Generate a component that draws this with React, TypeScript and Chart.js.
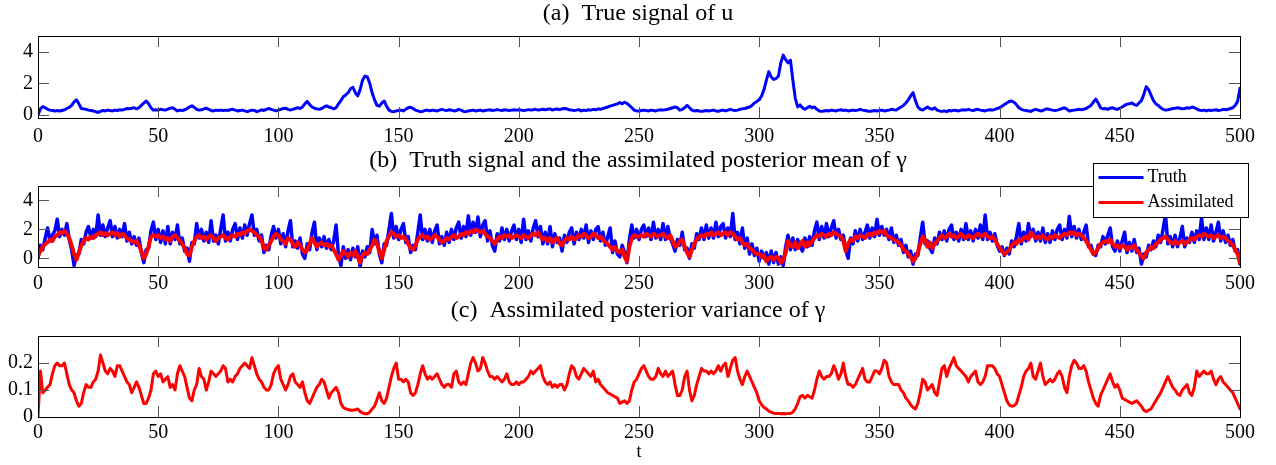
import React, { useEffect, useRef } from 'react';
import { Chart, registerables } from 'chart.js';

Chart.register(...registerables);

const FONT = "'Liberation Serif', 'Times New Roman', Times, serif";

// ---------------- data (t = 0, 1, 2, ..., 500) ----------------
const titleA = '(a)  True signal of u';
const titleB = '(b)  Truth signal and the assimilated posterior mean of γ';
const titleC = '(c)  Assimilated posterior variance of γ';
const xAxisTitleC = 't';
const legendLabels = ['Truth', 'Assimilated'];

const xTickValues = [0, 50, 100, 150, 200, 250, 300, 350, 400, 450, 500];
const yTicksA = [0, 2, 4];
const yTicksB = [0, 2, 4];
const yTicksC = [0, 0.1, 0.2];

const uTruth = [
  0, 0.38, 0.52, 0.45, 0.35, 0.3, 0.28, 0.25, 0.27, 0.24,
  0.28, 0.32, 0.4, 0.48, 0.6, 0.82, 0.95, 0.7, 0.4, 0.38,
  0.35, 0.3, 0.28, 0.25, 0.2, 0.15, 0.22, 0.28, 0.25, 0.3,
  0.27, 0.25, 0.3, 0.28, 0.32, 0.3, 0.35, 0.4, 0.38, 0.42,
  0.45, 0.38, 0.45, 0.6, 0.75, 0.88, 0.7, 0.45, 0.3, 0.32,
  0.3, 0.35, 0.32, 0.3, 0.36, 0.42, 0.45, 0.35, 0.25, 0.3,
  0.28, 0.32, 0.4, 0.5, 0.57, 0.48, 0.35, 0.3, 0.32, 0.38,
  0.42, 0.35, 0.28, 0.25, 0.3, 0.28, 0.3, 0.27, 0.3, 0.28,
  0.32, 0.35, 0.3, 0.25, 0.28, 0.3, 0.25, 0.2, 0.25, 0.3,
  0.28, 0.2, 0.25, 0.32, 0.28, 0.35, 0.4, 0.35, 0.3, 0.25,
  0.3, 0.35, 0.4, 0.42, 0.35, 0.3, 0.35, 0.4, 0.45, 0.4,
  0.5, 0.7, 0.85, 0.65, 0.5, 0.42, 0.38, 0.35, 0.4, 0.5,
  0.57, 0.5, 0.45, 0.38, 0.45, 0.7, 0.9, 1.15, 1.26, 1.4,
  1.65, 1.75, 1.4, 1.2, 1.6, 2.2, 2.46, 2.4, 2.0, 1.4,
  0.95, 0.6, 0.55, 0.75, 0.88, 0.55, 0.3, 0.22, 0.2, 0.25,
  0.28, 0.3, 0.25, 0.35, 0.45, 0.48, 0.4, 0.3, 0.25, 0.2,
  0.22, 0.28, 0.3, 0.25, 0.3, 0.27, 0.25, 0.3, 0.35, 0.3,
  0.28, 0.32, 0.3, 0.25, 0.27, 0.35, 0.3, 0.22, 0.2, 0.25,
  0.27, 0.3, 0.25, 0.28, 0.3, 0.25, 0.28, 0.3, 0.32, 0.28,
  0.3, 0.33, 0.3, 0.28, 0.32, 0.3, 0.27, 0.3, 0.32, 0.3,
  0.32, 0.3, 0.28, 0.3, 0.33, 0.3, 0.32, 0.35, 0.3, 0.33,
  0.35, 0.32, 0.35, 0.38, 0.3, 0.35, 0.37, 0.33, 0.38, 0.4,
  0.38, 0.32, 0.3, 0.28, 0.3, 0.33, 0.25, 0.3, 0.28, 0.32,
  0.3, 0.35, 0.32, 0.38, 0.35, 0.4, 0.45, 0.5, 0.55, 0.6,
  0.65, 0.7, 0.78, 0.7, 0.8, 0.72, 0.6, 0.45, 0.3, 0.25,
  0.25, 0.28, 0.3, 0.27, 0.25, 0.3, 0.28, 0.25, 0.3, 0.32,
  0.3, 0.33, 0.35, 0.4, 0.45, 0.5, 0.45, 0.3, 0.35, 0.45,
  0.6, 0.45, 0.3, 0.25, 0.28, 0.25, 0.22, 0.25, 0.28, 0.25,
  0.27, 0.3, 0.25, 0.22, 0.28, 0.3, 0.25, 0.3, 0.35, 0.3,
  0.28, 0.3, 0.35, 0.38, 0.4, 0.45, 0.5, 0.6, 0.75, 0.85,
  0.95, 1.2, 1.6, 2.2, 2.74, 2.4, 2.25, 2.3, 2.46, 3.3,
  3.79, 3.5, 3.3, 3.47, 2.2, 1.05, 0.5, 0.63, 0.45, 0.35,
  0.45, 0.55, 0.45, 0.5, 0.35, 0.25, 0.22, 0.25, 0.28, 0.25,
  0.3, 0.27, 0.25, 0.3, 0.32, 0.28, 0.3, 0.25, 0.27, 0.3,
  0.28, 0.3, 0.35, 0.3, 0.28, 0.25, 0.22, 0.25, 0.28, 0.25,
  0.27, 0.3, 0.25, 0.28, 0.3, 0.35, 0.32, 0.3, 0.4, 0.5,
  0.6, 0.75, 0.95, 1.2, 1.41, 0.9, 0.5, 0.35, 0.3, 0.4,
  0.5, 0.4, 0.35, 0.45, 0.3, 0.25, 0.22, 0.25, 0.2, 0.28,
  0.25, 0.3, 0.28, 0.25, 0.3, 0.32, 0.3, 0.35, 0.3, 0.28,
  0.32, 0.35, 0.3, 0.28, 0.25, 0.3, 0.32, 0.3, 0.35, 0.4,
  0.45, 0.55, 0.65, 0.75, 0.85, 0.88, 0.8, 0.65, 0.45, 0.35,
  0.3, 0.28, 0.25, 0.22, 0.3, 0.35, 0.3, 0.25, 0.28, 0.35,
  0.38, 0.33, 0.3, 0.28, 0.3, 0.35, 0.4, 0.45, 0.35, 0.25,
  0.28, 0.3, 0.32, 0.35, 0.33, 0.35, 0.4, 0.5, 0.6, 0.8,
  1.0, 0.75, 0.45, 0.38, 0.4, 0.35, 0.42, 0.45, 0.38, 0.35,
  0.42, 0.5, 0.6, 0.68, 0.7, 0.75, 0.65, 0.6, 0.75, 0.9,
  1.3, 1.79, 1.6, 1.25, 0.9, 0.7, 0.6, 0.45, 0.35, 0.3,
  0.32, 0.35, 0.4, 0.42, 0.45, 0.42, 0.38, 0.4, 0.45, 0.42,
  0.5, 0.45, 0.38, 0.3, 0.28, 0.3, 0.25, 0.3, 0.28, 0.3,
  0.32, 0.28, 0.3, 0.35, 0.32, 0.35, 0.4, 0.45, 0.6, 0.85,
  1.68,
];

const gammaTruth = [
  0.0, 0.9, 0.6, 1.4, 2.1, 1.2, 1.6, 1.9, 2.7, 1.5,
  2.0, 1.6, 2.4, 1.3, 0.6, -0.5, 0.2, 0.3, 1.3, 1.0,
  1.8, 2.2, 1.4, 2.0, 1.5, 3.0, 1.6, 2.3, 1.5, 2.1,
  2.6, 1.5, 2.2, 1.4, 2.0, 1.5, 2.4, 1.2, 1.8, 1.0,
  1.5, 0.9, 1.4, 0.4, -0.3, 0.6, 0.7, 1.9, 2.5, 1.3,
  2.0, 1.1, 1.9, 1.0, 2.2, 1.0, 1.8, 1.3, 2.3, 1.0,
  1.4, 0.5, 0.7, -0.2, 1.1, 1.0, 2.4, 1.4, 2.0, 1.2,
  1.8, 1.1, 2.6, 1.2, 1.6, 1.0, 2.0, 3.0, 1.2, 1.8,
  1.2, 2.0, 2.4, 1.3, 2.1, 1.4, 2.3, 1.6, 2.4, 3.0,
  1.6, 2.0, 1.2, 1.6, 0.4, 0.9, 0.6, 1.6, 2.2, 1.4,
  2.0, 1.0, 1.7, 0.8, 1.9, 2.6, 0.8, 1.2, 0.7, 1.4,
  0.3, 0.0, 1.0, 0.6, 1.8, 2.5, 0.6, 1.4, 0.8, 1.5,
  0.7, 1.3, 0.6, 1.2, 2.3, 0.2, -0.5, 0.8, 0.0, 0.6,
  -0.1, 0.7, 0.1, 0.8, -0.6, 0.5, 0.1, 0.8, 0.4, 2.0,
  1.0, 1.6, 0.3, -0.3, 1.0, 0.9, 2.0, 3.1, 1.4, 2.2,
  1.3, 2.0, 2.4, 1.1, 1.5, 0.4, 0.9, 0.6, 1.8, 3.0,
  1.3, 2.0, 1.2, 2.0, 1.1, 1.9, 2.3, 1.0, 1.5, 0.9,
  1.8, 1.1, 2.0, 1.3, 2.1, 2.5, 1.4, 2.2, 1.5, 2.95,
  1.6, 2.5, 1.8, 2.85, 1.5, 2.3, 2.6, 1.2, 1.9, 0.9,
  0.5, 1.7, 1.2, 2.1, 1.3, 2.0, 1.2, 1.9, 2.3, 1.3,
  2.0, 1.1, 2.7, 1.3, 1.9, 1.2, 2.1, 2.6, 1.5, 2.2,
  1.0, 1.8, 1.0, 2.2, 0.8, 1.7, 1.1, 1.4, 0.5, 1.6,
  1.1, 1.8, 2.1, 1.0, 1.8, 1.3, 2.0, 1.4, 2.3, 1.1,
  1.9, 1.3, 2.0, 2.2, 1.2, 1.8, 0.9, 1.5, 2.1, 0.4,
  1.2, 0.3, 0.1, 0.9, 0.4, -0.3, 1.3, 2.3, 1.4, 2.0,
  1.3, 2.0, 2.3, 1.5, 2.1, 1.3, 2.5, 1.4, 2.0, 1.3,
  2.4, 1.3, 2.2, 1.4, 1.0, 0.5, 1.3, 0.9, 1.8, 0.6,
  0.7, 0.0, 1.0, 0.7, 1.7, 1.3, 2.1, 1.3, 2.3, 1.4,
  2.1, 1.4, 2.5, 1.5, 2.2, 2.4, 1.4, 2.1, 1.5, 3.1,
  1.3, 1.8, 1.0, 2.1, 0.7, 1.4, 0.3, 1.0, 0.2, 0.7,
  -0.2, 0.5, 0.0, 0.4, -0.4, 0.5, -0.3, 0.4, -0.4, 0.1,
  -0.5, 0.8, 1.6, 0.6, 1.4, 0.6, 1.3, 0.8, 0.5, 1.4,
  0.8, 1.5, 0.9, 1.9, 2.5, 1.3, 2.2, 1.4, 2.4, 1.5,
  2.1, 2.6, 1.4, 2.0, 1.3, 1.6, 0.6, 0.0, 1.4, 1.0,
  1.9, 1.2, 2.0, 1.3, 1.8, 2.3, 1.4, 2.1, 1.5, 2.7,
  1.6, 2.2, 1.6, 2.0, 1.3, 2.1, 1.1, 1.6, 0.9, 1.3,
  0.4, 0.9, 0.1, 0.5, -0.4, 0.3, 0.2, 1.4, 2.5, 1.0,
  1.2, 0.7, 0.4, 1.4, 1.0, 1.8, 1.3, 1.9, 1.2, 2.0,
  2.3, 1.3, 1.8, 1.2, 2.0, 1.3, 2.4, 1.3, 1.9, 1.2,
  2.0, 1.4, 2.3, 1.3, 3.0, 1.3, 1.8, 1.2, 1.7, 0.9,
  0.5, 0.8, 0.2, 0.7, 0.3, 1.2, 0.8, 1.5, 2.4, 1.0,
  1.8, 1.2, 2.4, 1.5, 2.0, 1.2, 1.8, 1.2, 2.1, 1.1,
  1.7, 1.1, 1.9, 1.3, 2.0, 2.3, 1.3, 2.0, 1.4, 2.9,
  1.5, 2.2, 1.4, 2.0, 1.3, 1.8, 2.3, 0.8, 0.9, 0.3,
  0.2, 0.9, 0.8, 1.5, 1.0, 1.6, 2.1, 0.8, 0.5, 1.2,
  0.5, 1.2, 1.8, 0.4, 1.1, 0.5, 1.3, 0.4, 0.7, -0.4,
  0.3, 0.1, 0.9, 0.6, 1.2, 0.8, 1.6, 1.1, 2.0, 3.0,
  1.0, 1.5, 0.8, 1.6, 0.8, 1.4, 2.2, 0.8, 1.4, 1.1,
  1.8, 1.1, 1.9, 1.3, 2.8, 1.3, 2.1, 1.3, 2.3, 1.2,
  1.8, 2.5, 1.2, 1.9, 1.1, 1.6, 0.9, 1.3, 0.5, 0.6,
  -0.4,
];

const gammaMean = [
  0.2, 0.5, 0.8, 1.0, 1.1, 1.3, 1.2, 1.5, 1.6, 1.8,
  1.75, 1.9, 1.7, 1.4, 0.9, 0.3, -0.1, 0.4, 0.9, 1.2,
  1.4, 1.3, 1.5, 1.4, 1.6, 1.7, 1.8, 1.6, 1.75, 1.6,
  1.7, 1.8, 1.6, 1.75, 1.5, 1.7, 1.6, 1.4, 1.3, 1.2,
  1.1, 1.2, 0.9, 0.5, 0.0, 0.3, 0.8, 1.5, 1.6, 1.5,
  1.6, 1.4, 1.5, 1.3, 1.4, 1.2, 1.5, 1.6, 1.4, 1.2,
  1.0, 0.7, 0.3, 0.2, 0.8, 1.2, 1.5, 1.6, 1.4, 1.5,
  1.3, 1.5, 1.6, 1.4, 1.2, 1.4, 1.5, 1.6, 1.4, 1.3,
  1.5, 1.6, 1.5, 1.7, 1.6, 1.8, 1.7, 1.9, 2.0, 1.9,
  1.8, 1.6, 1.5, 1.2, 0.7, 0.6, 0.9, 1.2, 1.5, 1.7,
  1.6, 1.3, 1.2, 1.0, 1.4, 1.3, 1.0, 0.8, 1.1, 0.9,
  0.6, 0.4, 0.6, 1.0, 1.4, 1.1, 0.8, 1.0, 1.1, 0.9,
  1.0, 0.8, 0.9, 0.6, 0.3, -0.1, 0.2, 0.5, 0.3, 0.1,
  0.4, 0.2, 0.5, 0.1, -0.3, 0.2, 0.4, 0.3, 0.6, 0.9,
  1.3, 1.0, 0.5, 0.0, 0.6, 1.2, 1.5, 1.8, 1.7, 1.5,
  1.6, 1.4, 1.5, 1.3, 1.0, 0.7, 0.6, 0.9, 1.3, 1.5,
  1.6, 1.4, 1.5, 1.3, 1.4, 1.6, 1.5, 1.3, 1.1, 1.2,
  1.4, 1.3, 1.5, 1.6, 1.4, 1.5, 1.7, 1.6, 1.8, 1.7,
  1.9, 1.8, 2.0, 1.9, 1.8, 1.9, 1.7, 1.5, 1.4, 1.2,
  1.0, 1.3, 1.5, 1.4, 1.6, 1.5, 1.6, 1.4, 1.5, 1.6,
  1.5, 1.4, 1.6, 1.5, 1.4, 1.6, 1.7, 1.6, 1.8, 1.5,
  1.3, 1.4, 1.2, 1.4, 1.1, 1.3, 1.4, 1.0, 0.9, 1.2,
  1.4, 1.3, 1.5, 1.3, 1.4, 1.6, 1.5, 1.7, 1.6, 1.4,
  1.5, 1.7, 1.6, 1.4, 1.5, 1.3, 1.1, 1.0, 0.8, 0.6,
  0.8, 0.5, 0.4, 0.6, 0.1, -0.2, 0.8, 1.4, 1.6, 1.5,
  1.5, 1.6, 1.5, 1.7, 1.6, 1.5, 1.7, 1.6, 1.5, 1.6,
  1.7, 1.5, 1.4, 1.6, 1.2, 0.8, 0.9, 1.2, 1.3, 0.8,
  0.4, 0.1, 0.6, 1.0, 1.3, 1.5, 1.6, 1.5, 1.7, 1.6,
  1.8, 1.6, 1.7, 1.8, 1.6, 1.7, 1.8, 1.6, 1.8, 1.7,
  1.5, 1.3, 1.4, 1.1, 0.9, 1.0, 0.7, 0.6, 0.4, 0.3,
  0.3, 0.1, 0.2, -0.2, 0.0, 0.1, -0.1, 0.1, 0.0, -0.3,
  -0.1, 0.4, 1.2, 0.9, 0.8, 1.1, 0.7, 1.0, 1.2, 0.8,
  1.1, 0.9, 1.2, 1.4, 1.6, 1.5, 1.7, 1.6, 1.5, 1.7,
  1.6, 1.8, 1.7, 1.6, 1.5, 1.2, 0.5, 1.0, 1.3, 1.2,
  1.5, 1.4, 1.6, 1.5, 1.4, 1.6, 1.7, 1.6, 1.8, 1.7,
  1.9, 1.8, 1.9, 1.6, 1.5, 1.4, 1.3, 1.2, 1.1, 0.9,
  0.6, 0.5, 0.3, 0.1, -0.2, 0.0, 0.4, 1.0, 1.5, 1.3,
  0.8, 1.1, 0.7, 1.0, 1.2, 1.4, 1.6, 1.4, 1.5, 1.7,
  1.5, 1.6, 1.4, 1.5, 1.7, 1.5, 1.4, 1.6, 1.5, 1.4,
  1.6, 1.7, 1.5, 1.6, 1.7, 1.5, 1.4, 1.5, 1.3, 1.0,
  0.7, 0.5, 0.3, 0.4, 0.6, 0.9, 1.1, 1.0, 1.3, 1.2,
  1.4, 1.5, 1.3, 1.8, 1.6, 1.4, 1.5, 1.4, 1.6, 1.4,
  1.3, 1.5, 1.4, 1.6, 1.5, 1.4, 1.6, 1.7, 1.6, 1.8,
  1.7, 1.8, 1.6, 1.7, 1.6, 1.4, 1.2, 0.9, 0.6, 0.3,
  0.4, 0.7, 1.0, 1.1, 1.2, 1.1, 1.3, 1.0, 0.8, 0.9,
  0.7, 0.9, 0.8, 0.6, 0.8, 0.7, 0.9, 0.6, 0.4, 0.1,
  0.0, 0.4, 0.6, 0.8, 0.7, 1.0, 1.1, 1.3, 1.4, 1.5,
  1.3, 1.1, 1.0, 1.2, 1.0, 1.1, 1.2, 1.0, 1.1, 1.3,
  1.4, 1.3, 1.5, 1.6, 1.5, 1.7, 1.6, 1.5, 1.6, 1.4,
  1.5, 1.6, 1.4, 1.5, 1.4, 1.2, 1.1, 0.9, 0.6, 0.3,
  -0.3,
];

const gammaVar = [
  0, 0.17, 0.09, 0.1, 0.11, 0.12, 0.16, 0.19, 0.2, 0.19,
  0.19, 0.2, 0.16, 0.12, 0.1, 0.09, 0.06, 0.04, 0.05, 0.09,
  0.12, 0.11, 0.11, 0.13, 0.14, 0.17, 0.23, 0.2, 0.17, 0.16,
  0.18, 0.17, 0.15, 0.19, 0.19, 0.17, 0.15, 0.13, 0.12, 0.09,
  0.11, 0.13, 0.11, 0.08, 0.05, 0.05, 0.07, 0.1, 0.16, 0.17,
  0.15, 0.16, 0.13, 0.14, 0.15, 0.11, 0.12, 0.1, 0.16, 0.19,
  0.17, 0.15, 0.11, 0.07, 0.06, 0.1, 0.12, 0.18, 0.15, 0.14,
  0.1, 0.13, 0.17, 0.16, 0.15, 0.16, 0.17, 0.19, 0.18, 0.13,
  0.14, 0.13, 0.15, 0.16, 0.18, 0.19, 0.2, 0.19, 0.18, 0.22,
  0.19, 0.16, 0.14, 0.13, 0.11, 0.1, 0.1, 0.12, 0.16, 0.18,
  0.19, 0.14, 0.12, 0.1, 0.12, 0.15, 0.16, 0.13, 0.12, 0.11,
  0.13, 0.09, 0.06, 0.05, 0.07, 0.09, 0.11, 0.12, 0.14, 0.13,
  0.1, 0.07, 0.09, 0.1, 0.11, 0.09, 0.05, 0.035, 0.03, 0.028,
  0.025, 0.025, 0.027, 0.03, 0.02, 0.015, 0.012, 0.012, 0.018, 0.03,
  0.04, 0.065, 0.09, 0.06, 0.05, 0.07, 0.11, 0.15, 0.18, 0.2,
  0.14, 0.14, 0.13, 0.14, 0.13, 0.09, 0.08, 0.09, 0.12, 0.16,
  0.19, 0.16, 0.14, 0.15, 0.14, 0.15, 0.16, 0.14, 0.12, 0.11,
  0.12, 0.12, 0.11, 0.16, 0.17, 0.13, 0.12, 0.13, 0.12, 0.16,
  0.2, 0.22, 0.2, 0.17, 0.18, 0.22, 0.2, 0.17, 0.15, 0.15,
  0.14, 0.15, 0.14, 0.13, 0.14, 0.16, 0.13, 0.12, 0.12, 0.13,
  0.12, 0.13, 0.13, 0.14, 0.15, 0.17, 0.16, 0.17, 0.18, 0.19,
  0.15, 0.13, 0.12, 0.13, 0.11, 0.12, 0.11, 0.12, 0.12, 0.1,
  0.12, 0.16, 0.19, 0.18, 0.15, 0.14, 0.16, 0.18, 0.17, 0.16,
  0.15, 0.17, 0.13, 0.14, 0.12, 0.11, 0.1, 0.09, 0.085, 0.08,
  0.075, 0.07, 0.05, 0.055, 0.06, 0.05, 0.06, 0.1, 0.13, 0.14,
  0.16, 0.18, 0.19, 0.17, 0.15, 0.14, 0.14, 0.15, 0.18, 0.16,
  0.15, 0.17, 0.15, 0.16, 0.17, 0.12, 0.08, 0.08, 0.1, 0.15,
  0.17, 0.1, 0.06, 0.08, 0.12, 0.15, 0.18, 0.17, 0.17, 0.16,
  0.17, 0.16, 0.17, 0.19, 0.17, 0.19, 0.2, 0.15, 0.18, 0.21,
  0.22, 0.17, 0.14, 0.12, 0.15, 0.17, 0.15, 0.13, 0.11, 0.09,
  0.06, 0.045, 0.035, 0.03, 0.022, 0.018, 0.014, 0.013, 0.013, 0.012,
  0.013, 0.012, 0.013, 0.013, 0.018, 0.03, 0.05, 0.075, 0.08, 0.07,
  0.08, 0.075, 0.07, 0.1, 0.14, 0.17, 0.15, 0.14, 0.15, 0.15,
  0.16, 0.19, 0.17, 0.14, 0.16, 0.2, 0.15, 0.12, 0.12, 0.11,
  0.12, 0.14, 0.16, 0.18, 0.14, 0.13, 0.13, 0.15, 0.17, 0.17,
  0.16, 0.18, 0.21, 0.2, 0.15, 0.13, 0.12, 0.12, 0.12, 0.1,
  0.09, 0.07, 0.06, 0.045, 0.035, 0.03, 0.05, 0.09, 0.14, 0.13,
  0.1, 0.11, 0.12, 0.09, 0.08, 0.13, 0.18, 0.19, 0.15, 0.18,
  0.2, 0.22, 0.19, 0.18, 0.17, 0.16, 0.15, 0.13, 0.15, 0.16,
  0.17, 0.13, 0.12, 0.13, 0.15, 0.19, 0.19, 0.19, 0.18, 0.16,
  0.15, 0.12, 0.09, 0.06, 0.045, 0.04, 0.042, 0.05, 0.08, 0.11,
  0.15, 0.17, 0.18, 0.2, 0.15, 0.14, 0.17, 0.2, 0.15, 0.12,
  0.13, 0.14, 0.13, 0.14, 0.16, 0.17, 0.15, 0.11, 0.09, 0.15,
  0.19, 0.21, 0.2, 0.18, 0.18, 0.19, 0.17, 0.13, 0.1, 0.07,
  0.05, 0.04, 0.08, 0.1, 0.12, 0.14, 0.16, 0.13, 0.11, 0.12,
  0.1, 0.07, 0.065, 0.06, 0.055, 0.05, 0.055, 0.06, 0.05, 0.04,
  0.025, 0.02, 0.025, 0.03, 0.045, 0.06, 0.075, 0.09, 0.11, 0.13,
  0.15, 0.13, 0.11, 0.1, 0.085, 0.08, 0.1, 0.11, 0.12, 0.09,
  0.08, 0.11, 0.17, 0.15, 0.16, 0.17, 0.16, 0.16, 0.17, 0.14,
  0.12, 0.14, 0.15, 0.13, 0.12, 0.11, 0.1, 0.09, 0.07, 0.05,
  0.03,
];

// ---------------- helpers ----------------
const toPoints = (vals: number[]) => vals.map((y, i) => ({ x: i, y }));

const framePlugin = {
  id: 'matlabFrame',
  afterDraw(chart: any, _args: any, opts: any) {
    const { ctx, chartArea } = chart;
    const { left, right, top, bottom } = chartArea;
    const xs = chart.scales.x;
    const ys = chart.scales.y;
    const L = 11;
    ctx.save();
    ctx.lineWidth = 1;
    ctx.strokeStyle = '#555';
    ctx.beginPath();
    for (const v of opts.xTicks as number[]) {
      const px = Math.round(xs.getPixelForValue(v)) + 0.5;
      ctx.moveTo(px, bottom);
      ctx.lineTo(px, bottom - L);
      ctx.moveTo(px, top);
      ctx.lineTo(px, top + L);
    }
    for (const v of opts.yTicks as number[]) {
      const py = Math.round(ys.getPixelForValue(v)) + 0.5;
      ctx.moveTo(left, py);
      ctx.lineTo(left + L, py);
      ctx.moveTo(right, py);
      ctx.lineTo(right - L, py);
    }
    ctx.stroke();
    ctx.strokeStyle = '#000';
    ctx.strokeRect(Math.round(left) + 0.5, Math.round(top) + 0.5, Math.round(right - left), Math.round(bottom - top));

    if (opts.legend) {
      const lg = opts.legend;
      const bx = Math.round(right + lg.dx) + 0.5;
      const by = Math.round(top + lg.dy) + 0.5;
      ctx.fillStyle = '#fff';
      ctx.fillRect(bx, by, lg.w, lg.h);
      ctx.strokeStyle = '#000';
      ctx.lineWidth = 1;
      ctx.strokeRect(bx, by, lg.w, lg.h);
      ctx.font = `${lg.fontSize}px ${FONT}`;
      ctx.textBaseline = 'middle';
      ctx.textAlign = 'left';
      chart.data.datasets.forEach((ds: any, i: number) => {
        const yy = by + lg.rowY[i];
        ctx.strokeStyle = ds.borderColor;
        ctx.lineWidth = 3;
        ctx.beginPath();
        ctx.moveTo(bx + lg.lineX0, yy);
        ctx.lineTo(bx + lg.lineX1, yy);
        ctx.stroke();
        ctx.fillStyle = '#000';
        ctx.fillText(ds.label, bx + lg.textX, yy);
      });
    }
    ctx.restore();
  },
};

type Series = { label: string; values: number[]; color: string; width: number; order: number };
type PanelSpec = {
  title: string;
  series: Series[];
  yMin: number;
  yMax: number;
  yTicks: number[];
  titleGap: number;
  xAxisHeight: number;
  xLabelPad: number;
  padBottom: number;
  xTitle?: string;
  legend?: any;
};

function buildConfig(p: PanelSpec): any {
  return {
    type: 'line',
    data: {
      datasets: p.series.map((s) => ({
        label: s.label,
        data: toPoints(s.values),
        borderColor: s.color,
        backgroundColor: s.color,
        borderWidth: s.width,
        pointRadius: 0,
        tension: 0,
        fill: false,
        order: s.order,
        yAxisID: 'y',
        borderJoinStyle: 'round',
        borderCapStyle: 'round',
      })),
    },
    options: {
      responsive: false,
      animation: false,
      devicePixelRatio: 1,
      layout: { padding: { left: 0, right: 0, top: 0, bottom: p.padBottom } },
      plugins: {
        legend: { display: false },
        tooltip: { enabled: false },
        title: {
          display: true,
          text: p.title,
          color: '#000',
          font: { family: FONT, size: 24, weight: 'normal', lineHeight: 1.2 },
          padding: { top: 0, bottom: p.titleGap },
        },
        matlabFrame: { xTicks: xTickValues, yTicks: p.yTicks, legend: p.legend },
      },
      scales: {
        x: {
          type: 'linear',
          min: 0,
          max: 500,
          grid: { display: false, drawTicks: false },
          border: { display: false },
          afterBuildTicks: (s: any) => {
            s.ticks = xTickValues.map((v) => ({ value: v }));
          },
          afterFit: (s: any) => {
            s.height = p.xAxisHeight;
          },
          ticks: {
            autoSkip: false,
            maxRotation: 0,
            minRotation: 0,
            padding: p.xLabelPad,
            color: '#000',
            font: { family: FONT, size: 20, lineHeight: 1.2 },
            callback: (v: any) => String(v),
          },
          title: p.xTitle
            ? { display: true, text: p.xTitle, color: '#000', font: { family: FONT, size: 18, lineHeight: 1.2 }, padding: 0 }
            : { display: false },
        },
        y: {
          type: 'linear',
          position: 'left',
          min: p.yMin,
          max: p.yMax,
          grid: { display: false, drawTicks: false },
          border: { display: false },
          afterBuildTicks: (s: any) => {
            s.ticks = p.yTicks.map((v) => ({ value: v }));
          },
          afterFit: (s: any) => {
            s.width = 38;
          },
          ticks: {
            padding: 5,
            color: '#000',
            font: { family: FONT, size: 20, lineHeight: 1.2 },
            callback: (v: any) => String(v),
          },
        },
        // empty right-hand margin so the title centres over the plot box
        yRight: {
          type: 'linear',
          position: 'right',
          display: true,
          grid: { display: false, drawTicks: false },
          border: { display: false },
          ticks: { display: false },
          afterFit: (s: any) => {
            s.width = 36;
          },
        },
      },
    },
    plugins: [framePlugin],
  };
}

const panelA: PanelSpec = {
  title: titleA,
  series: [{ label: 'u', values: uTruth, color: '#0000ff', width: 3, order: 1 }],
  yMin: -0.2,
  yMax: 5,
  yTicks: yTicksA,
  titleGap: 8.2,
  xAxisHeight: 28,
  xLabelPad: 7,
  padBottom: 0,
};

const panelB: PanelSpec = {
  title: titleB,
  series: [
    { label: legendLabels[0], values: gammaTruth, color: '#0000ff', width: 3.5, order: 2 },
    { label: legendLabels[1], values: gammaMean, color: '#ff0000', width: 4, order: 1 },
  ],
  yMin: -0.6,
  yMax: 5,
  yTicks: yTicksB,
  titleGap: 11.2,
  xAxisHeight: 29,
  xLabelPad: 5,
  padBottom: 0,
  legend: { dx: -147, dy: -23, w: 155, h: 54, fontSize: 18, rowY: [14, 39], lineX0: 5, lineX1: 50, textX: 54 },
};

const panelC: PanelSpec = {
  title: titleC,
  series: [{ label: 'variance', values: gammaVar, color: '#ff0000', width: 3, order: 1 }],
  yMin: 0,
  yMax: 0.3,
  yTicks: yTicksC,
  titleGap: 11.2,
  xAxisHeight: 46,
  xLabelPad: 4,
  padBottom: 2,
  xTitle: xAxisTitleC,
};

const layout = [
  { spec: panelA, top: -1, height: 147 },
  { spec: panelB, top: 146, height: 150 },
  { spec: panelC, top: 296, height: 169 },
];

export default function App() {
  const refs = [useRef<HTMLCanvasElement>(null), useRef<HTMLCanvasElement>(null), useRef<HTMLCanvasElement>(null)];

  useEffect(() => {
    const charts = layout.map((l, i) => new Chart(refs[i].current as HTMLCanvasElement, buildConfig(l.spec)));
    return () => charts.forEach((c) => c.destroy());
  }, []);

  return (
    <div style={{ position: 'fixed', left: 0, top: 0, width: 1276, height: 465, background: '#fff', overflow: 'hidden' }}>
      {layout.map((l, i) => (
        <canvas
          key={i}
          ref={refs[i]}
          width={1276}
          height={l.height}
          style={{ position: 'absolute', left: 0, top: l.top, width: 1276, height: l.height }}
        />
      ))}
    </div>
  );
}
